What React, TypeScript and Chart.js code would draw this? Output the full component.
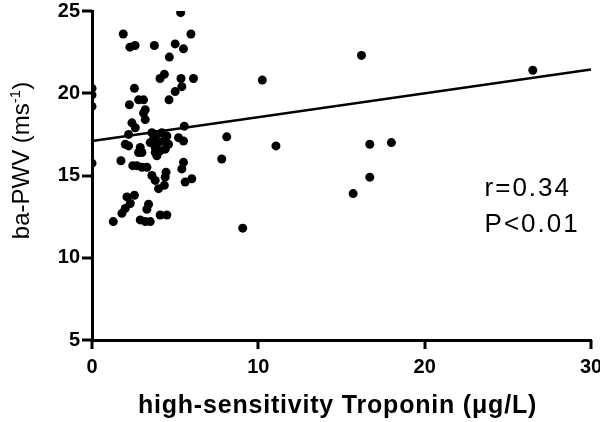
import { useEffect, useRef } from "react";
import { Chart, registerables } from "chart.js";

Chart.register(...registerables);

// hs-Troponin (µg/L)
const troponinX = [
  0, 0, 0, 0,
  5.33, 1.88, 5.95, 2.28, 2.59, 3.75, 5.0, 5.5, 4.65, 4.35, 4.09, 5.35, 6.1, 5.4, 5.0, 4.63,
  2.55, 2.8, 3.1, 2.25, 3.2, 3.1, 3.2, 2.4, 2.6, 5.55,
  3.6, 3.9, 4.2, 4.5, 3.7, 4.0, 4.3, 4.6, 3.8, 4.1, 4.4, 3.5,
  2.2, 2.0, 2.2, 5.2, 5.5, 2.9, 3.0, 1.74, 2.45, 2.7, 3.0, 3.3,
  2.8, 3.8, 3.9, 3.6, 3.8, 4.45, 4.4, 5.5, 5.4, 5.6, 6.0, 4.0, 4.35,
  2.1, 2.55, 2.3, 2.0, 1.8, 3.4, 3.3, 1.28, 2.9, 3.2, 3.5, 4.1, 4.5,
  10.24, 16.2, 8.1, 7.8, 11.06, 9.06, 16.7, 18.0, 16.7, 15.7, 26.5,
];
// ba-PWV (m/s)
const pwvY = [
  20.3, 19.9, 19.2, 15.75,
  24.9, 23.6, 23.6, 22.8, 22.9, 22.9, 23.0, 22.7, 22.2, 21.15, 20.9, 20.9, 20.9, 20.4, 20.1, 19.6,
  20.3, 19.6, 19.6, 19.3, 19.0, 18.8, 18.4, 18.2, 17.9, 18.0,
  17.6, 17.5, 17.6, 17.4, 17.2, 17.0, 17.1, 16.9, 16.7, 16.5, 16.6, 17.0,
  17.5, 16.9, 16.8, 17.3, 17.1, 16.7, 16.4, 15.9, 15.6, 15.6, 15.5, 15.5,
  16.4, 16.4, 16.2, 15.0, 14.7, 15.2, 14.9, 15.8, 15.4, 14.6, 14.8, 14.2, 14.4,
  13.7, 13.8, 13.3, 13.0, 12.7, 13.25, 12.95, 12.2, 12.3, 12.2, 12.2, 12.6, 12.6,
  20.8, 22.3, 17.35, 16.0, 16.8, 11.8, 16.9, 17.0, 14.9, 13.9, 21.4,
];
const regressionX = [0, 30];
const regressionY = [17.1, 21.45];
const xRange = [0, 30];
const yRange = [5, 25];
const xStep = 10;
const yStep = 5;
const statLines = ["r=0.34", "P<0.01"];
const statAnchorX = 23.6;
const statBaselinesY = [13.75, 11.57];
const xTitle = "high-sensitivity Troponin (\u03bcg/L)";
const yTitleParts = ["ba-PWV (ms", "-1", ")"];

const FONT = "'Liberation Sans', Arial, Helvetica, sans-serif";

const textPlugin = {
  id: "customText",
  afterDraw(chart: any) {
    const ctx = chart.ctx as CanvasRenderingContext2D;
    const xs = chart.scales.x;
    const ys = chart.scales.y;
    const area = chart.chartArea;
    ctx.save();
    ctx.fillStyle = "#000";
    // tick marks outside the axes
    ctx.strokeStyle = "#000";
    ctx.lineWidth = 3;
    ctx.lineCap = "butt";
    xs.ticks.forEach((t: any) => {
      const px = Math.round(xs.getPixelForValue(t.value));
      ctx.beginPath();
      ctx.moveTo(px, area.bottom);
      ctx.lineTo(px, area.bottom + 9);
      ctx.stroke();
    });
    ys.ticks.forEach((t: any) => {
      const py = Math.round(ys.getPixelForValue(t.value));
      ctx.beginPath();
      ctx.moveTo(area.left, py);
      ctx.lineTo(area.left - 10, py);
      ctx.stroke();
    });
    // stats annotation
    ctx.font = `26px ${FONT}`;
    (ctx as any).letterSpacing = "2px";
    ctx.textAlign = "left";
    ctx.textBaseline = "alphabetic";
    statLines.forEach((t, i) => {
      ctx.fillText(t, xs.getPixelForValue(statAnchorX), ys.getPixelForValue(statBaselinesY[i]));
    });
    // x title
    ctx.font = `bold 25px ${FONT}`;
    (ctx as any).letterSpacing = "0.8px";
    ctx.textAlign = "center";
    ctx.fillText(xTitle, (area.left + area.right) / 2 - 4, chart.height - 9);
    (ctx as any).letterSpacing = "0px";
    // y title rotated with superscript
    ctx.translate(29, (area.top + area.bottom) / 2 - 15);
    ctx.rotate(-Math.PI / 2);
    ctx.textAlign = "left";
    const mainFont = `24px ${FONT}`;
    const supFont = `15px ${FONT}`;
    ctx.font = mainFont;
    const w0 = ctx.measureText(yTitleParts[0]).width;
    const w2 = ctx.measureText(yTitleParts[2]).width;
    ctx.font = supFont;
    const w1 = ctx.measureText(yTitleParts[1]).width;
    let x = -(w0 + w1 + w2) / 2;
    ctx.font = mainFont;
    ctx.fillText(yTitleParts[0], x, 0);
    x += w0;
    ctx.font = supFont;
    ctx.fillText(yTitleParts[1], x, -9);
    x += w1;
    ctx.font = mainFont;
    ctx.fillText(yTitleParts[2], x, 0);
    ctx.restore();
  },
};

export default function App() {
  const ref = useRef<HTMLCanvasElement | null>(null);
  useEffect(() => {
    document.body.style.margin = "0";
    const canvas = ref.current;
    if (!canvas) return;
    const points = troponinX.map((x, i) => ({ x, y: pwvY[i] }));
    const line = regressionX.map((x, i) => ({ x, y: regressionY[i] }));
    const chart = new Chart(canvas, {
      type: "scatter",
      data: {
        datasets: [
          {
            type: "line",
            data: line,
            borderColor: "#000",
            borderWidth: 2.5,
            pointRadius: 0,
            fill: false,
          } as any,
          {
            data: points,
            backgroundColor: "#000",
            borderColor: "#000",
            pointRadius: 4.5,
            pointBorderWidth: 0,
          },
        ],
      },
      options: {
        animation: false,
        responsive: false,
        layout: { padding: { top: 11, right: 9, left: 0, bottom: 0 } },
        plugins: { legend: { display: false }, tooltip: { enabled: false } },
        scales: {
          x: {
            type: "linear",
            min: xRange[0],
            max: xRange[1],
            border: { display: true, width: 3, color: "#000" },
            grid: { display: false, drawTicks: true, tickLength: 9 },
            ticks: {
              stepSize: xStep,
              color: "#000",
              padding: 6,
              maxRotation: 0,
              font: { family: FONT, size: 20, weight: "bold" },
            },
            afterFit: (s: any) => {
              s.height = 82;
              s.paddingLeft = 0;
              s.paddingRight = 0;
            },
          },
          y: {
            type: "linear",
            min: yRange[0],
            max: yRange[1],
            border: { display: true, width: 3, color: "#000" },
            grid: { display: false, drawTicks: true, tickLength: 9 },
            ticks: {
              stepSize: yStep,
              color: "#000",
              padding: 3,
              font: { family: FONT, size: 20, weight: "bold" },
            },
            afterFit: (s: any) => {
              s.width = 92;
              s.paddingTop = 0;
              s.paddingBottom = 0;
            },
          },
        },
      } as any,
      plugins: [textPlugin],
    });
    return () => chart.destroy();
  }, []);
  return (
    <div style={{ width: 600, height: 422, background: "#fff" }}>
      <canvas ref={ref} width={600} height={422} />
    </div>
  );
}
